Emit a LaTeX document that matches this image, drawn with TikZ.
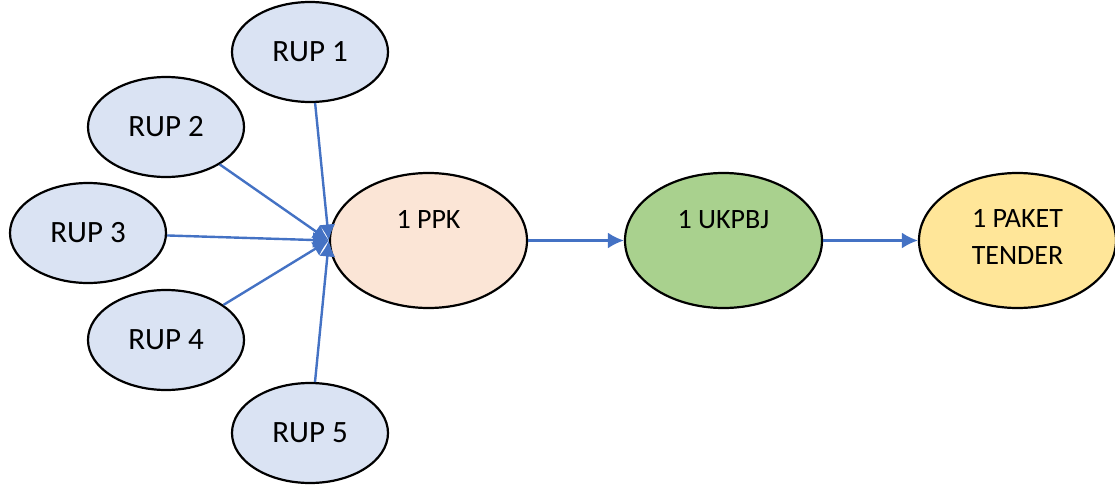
\documentclass[tikz,border=0pt]{standalone}
\usepackage{fontspec}
\setmainfont{Carlito}
\usepackage{tikz}
\usepackage{xcolor}
\usetikzlibrary{shapes.geometric,arrows.meta}

\definecolor{rupfill}{HTML}{DAE3F3}
\definecolor{ppkfill}{HTML}{FBE5D6}
\definecolor{ukpbjfill}{HTML}{A9D18E}
\definecolor{paketfill}{HTML}{FFE699}
\definecolor{linkblue}{HTML}{4472C4}

\begin{document}
\begin{tikzpicture}[x=0.5pt, y=-0.5pt,
  rup/.style={ellipse, draw, line width=1.1pt, fill=rupfill, inner sep=0pt,
    minimum width=78pt, minimum height=50pt, font=\fontsize{15.5}{18}\selectfont},
  big/.style={ellipse, draw, line width=1.1pt, inner sep=0pt,
    minimum width=98.5pt, minimum height=67.5pt},
  bigtext/.style={font=\fontsize{14}{18.5}\selectfont, align=center},
  link/.style={line width=1.2pt, linkblue, -{Latex[length=8pt,width=8pt]}}]
 \useasboundingbox (0,0) rectangle (1115,487);
 % the five RUP
 \node[rup] (rup1) at (310,52) {RUP 1};
 \node[rup] (rup2) at (166,127) {RUP 2};
 \node[rup] (rup3) at (88,233) {RUP 3};
 \node[rup] (rup4) at (166,340) {RUP 4};
 \node[rup] (rup5) at (310,433) {RUP 5};
 % chain
 \node[big, fill=ppkfill, label={[bigtext, yshift=10.5pt]center:1 PPK}] (ppk) at (428.5,240.5) {};
 \node[big, fill=ukpbjfill, label={[bigtext, yshift=10.5pt]center:1 UKPBJ}] (ukpbj) at (723.5,240.5) {};
 \node[big, fill=paketfill, label={[bigtext, yshift=1.75pt]center:1 PAKET\\TENDER}] (paket) at (1017.5,240.5) {};
 \foreach \i in {1,...,5}
  \draw[link] (rup\i) -- (ppk.west);
 \draw[link] (ppk) -- (ukpbj);
 \draw[link] (ukpbj) -- (paket);
\end{tikzpicture}
\end{document}
